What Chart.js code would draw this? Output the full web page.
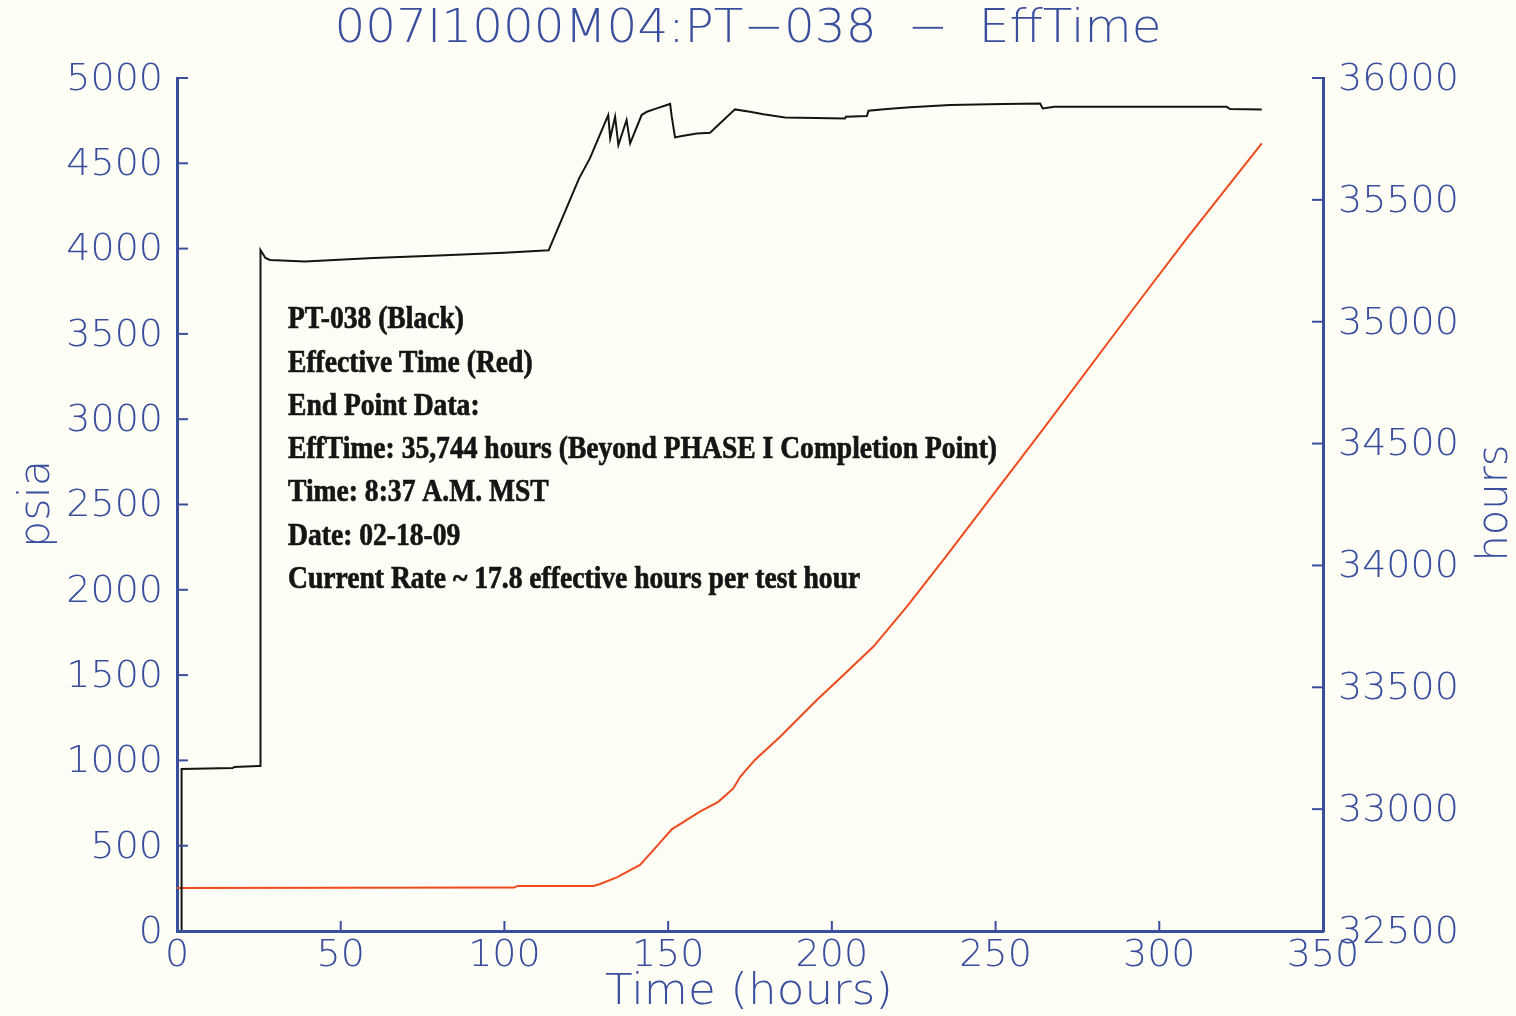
<!DOCTYPE html>
<html>
<head>
<meta charset="utf-8">
<title>007I1000M04:PT-038 - EffTime</title>
<script src="https://cdn.jsdelivr.net/npm/chart.js@4/dist/chart.umd.min.js"></script>
<style>
  html, body { margin: 0; padding: 0; background: #fefef7; }
  canvas { display: block; }
</style>
</head>
<body>
<canvas id="effChart" width="1516" height="1016"></canvas>
<script>
// PT-038 pressure (black line, left axis, psia)
const pressureHours = [1.4, 1.4, 17, 17.5, 25, 25.4, 25.5, 27, 28.4, 39, 60, 80, 100, 113.5,
  122.8, 126.1, 131.7, 132.3, 133.8, 134.8, 137.3, 138.4, 141.9, 143.5, 146.5, 150.6, 151.1,
  152.1, 154.2, 158.8, 162.8, 170.4, 175, 179.1, 185.7, 204, 204.3, 210.7, 211.2, 216.8,
  223.9, 236.1, 252.4, 263.6, 264.4, 268, 320.6, 321.6, 331.3];
const pressurePsia = [0, 950, 955, 962, 967, 967, 3992, 3945, 3933, 3925, 3945, 3960, 3975, 3990,
  4412, 4529, 4783, 4646, 4773, 4607, 4754, 4617, 4783, 4802, 4822, 4848, 4773,
  4652, 4660, 4675, 4679, 4816, 4802, 4787, 4769, 4763, 4773, 4777, 4808, 4818,
  4828, 4842, 4848, 4851, 4822, 4831, 4831, 4818, 4816];

// Effective time (red line, right axis, hours)
const effTestHours = [0, 103, 104, 127.2, 129.2, 134.3, 141.4, 145.5, 151.1, 159.7, 165.3, 169.9,
  172, 176.5, 184.2, 195.4, 202.5, 212.7, 222.9, 234, 263.6, 294.1, 308.4, 331.3];
const effHours = [32676, 32678, 32685, 32685, 32693, 32720, 32771, 32832, 32917, 32990, 33030, 33085,
  33133, 33202, 33297, 33448, 33537, 33667, 33831, 34022, 34543, 35089, 35342, 35732];

// tick labels
const timeTicks = [0, 50, 100, 150, 200, 250, 300, 350];
const psiaTicks = [0, 500, 1000, 1500, 2000, 2500, 3000, 3500, 4000, 4500, 5000];
const hoursTicks = [32500, 33000, 33500, 34000, 34500, 35000, 35500, 36000];

const noteLines = [
  'PT-038 (Black)',
  'Effective Time (Red)',
  'End Point Data:',
  'EffTime: 35,744 hours (Beyond PHASE I Completion Point)',
  'Time: 8:37 A.M. MST',
  'Date: 02-18-09',
  'Current Rate ~ 17.8 effective hours per test hour'
];

const blue = '#3a4e9e';
const thinFont = '"DejaVu Sans", sans-serif';

function pts(xs, ys) {
  return xs.map((x, i) => ({ x: x, y: ys[i] }));
}

function setTicks(values) {
  return scale => { scale.ticks = values.map(v => ({ value: v })); };
}

// centred text stretched to a given width (the original font is wider)
function fitText(ctx, s, x, y, w, angle) {
  const sx = w / ctx.measureText(s).width;
  ctx.save();
  ctx.translate(x, y);
  if (angle) ctx.rotate(angle);
  ctx.scale(sx, 1);
  ctx.fillText(s, 0, 0);
  ctx.restore();
}

// MATLAB style axes: inward ticks, thin labels, titles and the text box
const matlabLook = {
  id: 'matlabLook',
  beforeDraw(chart) {
    const ctx = chart.ctx;
    ctx.save();
    ctx.fillStyle = '#fefef7';
    ctx.fillRect(0, 0, chart.width, chart.height);
    ctx.restore();
  },
  afterDraw(chart) {
    const { ctx, chartArea: a, scales } = chart;
    ctx.save();
    ctx.strokeStyle = blue;
    ctx.lineWidth = 2;
    const seg = (x1, y1, x2, y2) => { ctx.beginPath(); ctx.moveTo(x1, y1); ctx.lineTo(x2, y2); ctx.stroke(); };

    ctx.fillStyle = blue;
    ctx.font = '200 38px ' + thinFont;
    ctx.textBaseline = 'middle';

    ctx.textAlign = 'right';
    scales.y.ticks.forEach(t => {
      const py = scales.y.getPixelForValue(t.value);
      seg(a.left, py, a.left + 11, py);
      ctx.fillText(String(t.value), a.left - 14, py + 2);
    });
    ctx.textAlign = 'left';
    scales.y2.ticks.forEach(t => {
      const py = scales.y2.getPixelForValue(t.value);
      seg(a.right, py, a.right - 11, py);
      ctx.fillText(String(t.value), a.right + 15, py + 2);
    });
    ctx.textAlign = 'center';
    scales.x.ticks.forEach(t => {
      const px = scales.x.getPixelForValue(t.value);
      seg(px, a.bottom, px, a.bottom - 10);
      ctx.fillText(String(t.value), px, a.bottom + 25);
    });

    // titles
    ctx.font = '200 46px ' + thinFont;
    fitText(ctx, '007I1000M04:PT\u2212038  \u2212  EffTime', 748, 30, 827);
    ctx.font = '200 42px ' + thinFont;
    fitText(ctx, 'Time (hours)', 749, 993, 288);
    fitText(ctx, 'psia', 38, 504, 88, -Math.PI / 2);
    fitText(ctx, 'hours', 1496, 503, 117, -Math.PI / 2);

    // annotation block
    ctx.font = 'bold 32px "Liberation Serif", serif';
    ctx.textAlign = 'left';
    ctx.fillStyle = '#151515';
    ctx.strokeStyle = '#151515';
    ctx.lineWidth = 0.7;
    const widest = Math.max(...noteLines.map(s => ctx.measureText(s).width));
    const sx = 709 / widest;
    noteLines.forEach((s, i) => {
      ctx.save();
      ctx.translate(288, 320 + i * 43.3);
      ctx.scale(sx, 1);
      ctx.fillText(s, 0, 0);
      ctx.strokeText(s, 0, 0);
      ctx.restore();
    });
    ctx.restore();
  }
};

new Chart(document.getElementById('effChart').getContext('2d'), {
  type: 'line',
  data: {
    datasets: [
      {
        label: 'PT-038',
        data: pts(pressureHours, pressurePsia),
        yAxisID: 'y',
        borderColor: '#141414',
        borderWidth: 2,
        pointRadius: 0,
        tension: 0
      },
      {
        label: 'Effective Time',
        data: pts(effTestHours, effHours),
        yAxisID: 'y2',
        borderColor: '#ee4a1c',
        borderWidth: 2,
        pointRadius: 0,
        tension: 0
      }
    ]
  },
  options: {
    responsive: false,
    animation: false,
    layout: { padding: { left: 177, top: 78, right: 193, bottom: 85 } },
    plugins: { legend: { display: false }, tooltip: { enabled: false } },
    scales: {
      x: {
        type: 'linear', min: 0, max: 350,
        afterBuildTicks: setTicks(timeTicks),
        afterFit: s => { s.height = 0; },
        ticks: { display: false },
        grid: { display: false },
        border: { display: true, color: blue, width: 3 }
      },
      y: {
        position: 'left', min: 0, max: 5000,
        afterBuildTicks: setTicks(psiaTicks),
        afterFit: s => { s.width = 0; },
        ticks: { display: false },
        grid: { display: false },
        border: { display: true, color: blue, width: 3 }
      },
      y2: {
        position: 'right', min: 32500, max: 36000,
        afterBuildTicks: setTicks(hoursTicks),
        afterFit: s => { s.width = 0; },
        ticks: { display: false },
        grid: { display: false },
        border: { display: true, color: blue, width: 3 }
      }
    }
  },
  plugins: [matlabLook]
});
</script>
</body>
</html>
